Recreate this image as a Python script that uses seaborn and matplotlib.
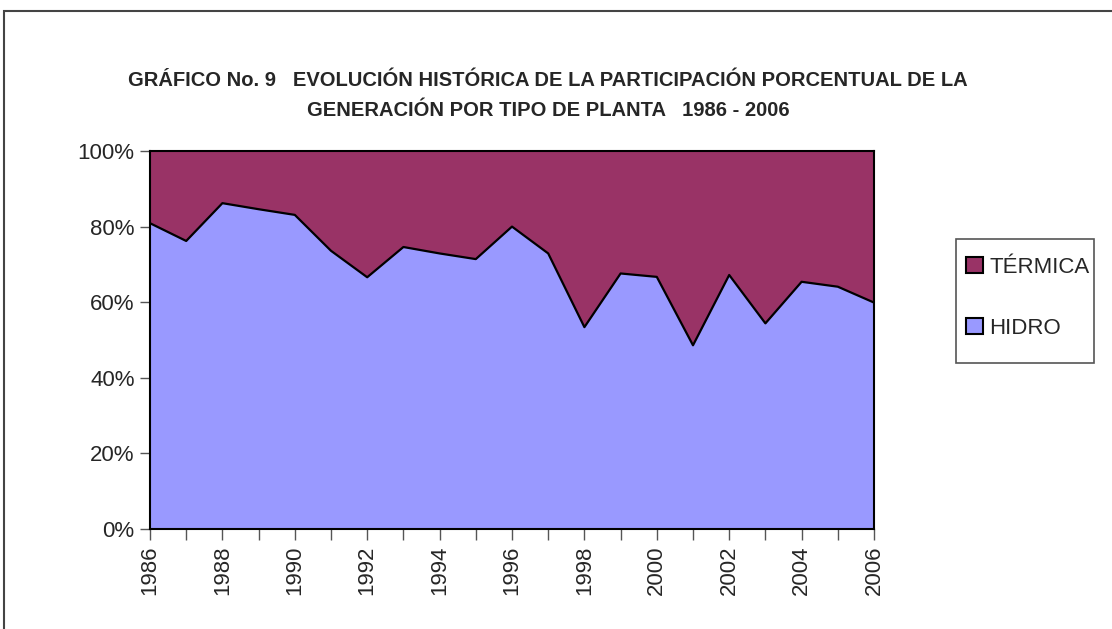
import matplotlib
matplotlib.use("Agg")
import matplotlib.pyplot as plt
from matplotlib.patches import Patch, Rectangle
from matplotlib.ticker import PercentFormatter, MultipleLocator
import seaborn as sns
import pandas as pd

sns.set_style("white")
plt.rcParams['font.family'] = ['Liberation Sans', 'DejaVu Sans']

# Datos (participacion HIDRO, %)
years = list(range(1986, 2007))
hidro = [80.9, 76.2, 86.2, 84.6, 83.1, 73.6, 66.6, 74.6, 72.9, 71.4, 80.0,
         72.9, 53.4, 67.6, 66.7, 48.6, 67.2, 54.4, 65.4, 64.1, 59.9]
termica = [100 - h for h in hidro]

df = pd.DataFrame({"year": years, "HIDRO": hidro, "TERMICA": termica})

c_hidro = "#9999FF"
c_termica = "#993366"

fig = plt.figure(figsize=(11.12, 6.29), dpi=100)
ax = fig.add_axes([150 / 1112, 1 - 529 / 629, 724 / 1112, 378 / 629])

ax.stackplot(df["year"], df["HIDRO"], df["TERMICA"],
             colors=[c_hidro, c_termica], linewidth=0)
sns.lineplot(data=df, x="year", y="HIDRO", ax=ax, color="black", linewidth=1.6)

ax.set_xlim(1986, 2006)
ax.set_ylim(0, 100)
ax.set_xlabel("")
ax.set_ylabel("")

ax.xaxis.set_major_locator(MultipleLocator(2))
ax.xaxis.set_minor_locator(MultipleLocator(1))
ax.yaxis.set_major_locator(MultipleLocator(20))
ax.yaxis.set_major_formatter(PercentFormatter(decimals=0))
ax.tick_params(axis="x", which="both", direction="out", length=8, width=1,
               color="#555555", bottom=True, labelsize=16, labelrotation=90, pad=4)
ax.tick_params(axis="y", direction="out", length=7, width=1, color="#555555",
               left=True, labelsize=16, pad=4)

for s in ax.spines.values():
    s.set_color("black")
    s.set_linewidth(1.5)

# leyenda
handles = [Patch(facecolor=c_termica, edgecolor="black", linewidth=1.5, label="TÉRMICA"),
           Patch(facecolor=c_hidro, edgecolor="black", linewidth=1.5, label="HIDRO")]
leg = fig.legend(handles=handles, loc="center left",
                 bbox_to_anchor=(966 / 1112, 1 - 298 / 629), bbox_transform=fig.transFigure,
                 frameon=False, fontsize=16,
                 handlelength=0.75, handleheight=0.75, handletextpad=0.3,
                 labelspacing=1.8, borderpad=0, borderaxespad=0)
fig.add_artist(Rectangle((956 / 1112, 1 - 363 / 629), 138 / 1112, 124 / 629,
                         transform=fig.transFigure, fill=False,
                         edgecolor="#555555", linewidth=1.2))

fig.text(548 / 1112, 1 - 80 / 629,
         "GRÁFICO No. 9   EVOLUCIÓN HISTÓRICA DE LA PARTICIPACIÓN PORCENTUAL DE LA",
         ha="center", va="center", fontsize=14.5, fontweight="bold")
fig.text(548 / 1112, 1 - 111 / 629,
         "GENERACIÓN POR TIPO DE PLANTA   1986 - 2006",
         ha="center", va="center", fontsize=14.5, fontweight="bold")

# marco exterior
fig.add_artist(Rectangle((4 / 1112, -0.05), 1.1, 1 - 11 / 629 + 0.05,
                         transform=fig.transFigure, fill=False,
                         edgecolor="#444444", linewidth=1.5))

fig.savefig("out.png", dpi=100)
